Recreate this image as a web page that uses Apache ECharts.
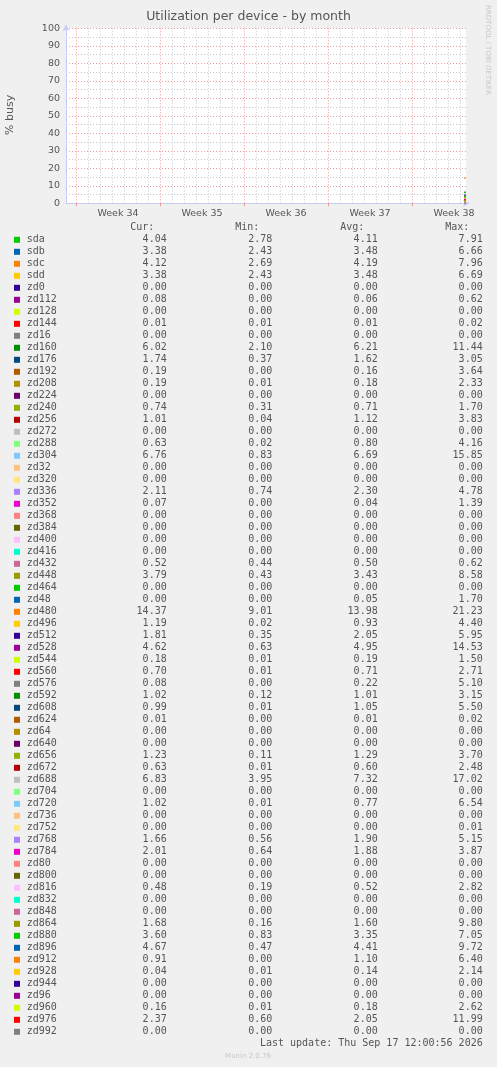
<!DOCTYPE html>
<html>
<head>
<meta charset="utf-8">
<script src="https://cdn.jsdelivr.net/npm/echarts@6/dist/echarts.min.js"></script>
<style>
html,body{margin:0;padding:0;background:#F0F0F0;}
#c{width:497px;height:1067px;}
</style>
</head>
<body>
<div id="c"></div>
<script>
// ---- Data ----
const devices = ["sda","sdb","sdc","sdd","zd0","zd112","zd128","zd144","zd16","zd160","zd176","zd192","zd208","zd224","zd240","zd256","zd272","zd288","zd304","zd32","zd320","zd336","zd352","zd368","zd384","zd400","zd416","zd432","zd448","zd464","zd48","zd480","zd496","zd512","zd528","zd544","zd560","zd576","zd592","zd608","zd624","zd64","zd640","zd656","zd672","zd688","zd704","zd720","zd736","zd752","zd768","zd784","zd80","zd800","zd816","zd832","zd848","zd864","zd880","zd896","zd912","zd928","zd944","zd96","zd960","zd976","zd992"];
const curVals = [4.04,3.38,4.12,3.38,0.00,0.08,0.00,0.01,0.00,6.02,1.74,0.19,0.19,0.00,0.74,1.01,0.00,0.63,6.76,0.00,0.00,2.11,0.07,0.00,0.00,0.00,0.00,0.52,3.79,0.00,0.00,14.37,1.19,1.81,4.62,0.18,0.70,0.08,1.02,0.99,0.01,0.00,0.00,1.23,0.63,6.83,0.00,1.02,0.00,0.00,1.66,2.01,0.00,0.00,0.48,0.00,0.00,1.68,3.60,4.67,0.91,0.04,0.00,0.00,0.16,2.37,0.00];
const minVals = [2.78,2.43,2.69,2.43,0.00,0.00,0.00,0.01,0.00,2.10,0.37,0.00,0.01,0.00,0.31,0.04,0.00,0.02,0.83,0.00,0.00,0.74,0.00,0.00,0.00,0.00,0.00,0.44,0.43,0.00,0.00,9.01,0.02,0.35,0.63,0.01,0.01,0.00,0.12,0.01,0.00,0.00,0.00,0.11,0.01,3.95,0.00,0.01,0.00,0.00,0.56,0.64,0.00,0.00,0.19,0.00,0.00,0.16,0.83,0.47,0.00,0.01,0.00,0.00,0.01,0.60,0.00];
const avgVals = [4.11,3.48,4.19,3.48,0.00,0.06,0.00,0.01,0.00,6.21,1.62,0.16,0.18,0.00,0.71,1.12,0.00,0.80,6.69,0.00,0.00,2.30,0.04,0.00,0.00,0.00,0.00,0.50,3.43,0.00,0.05,13.98,0.93,2.05,4.95,0.19,0.71,0.22,1.01,1.05,0.01,0.00,0.00,1.29,0.60,7.32,0.00,0.77,0.00,0.00,1.90,1.88,0.00,0.00,0.52,0.00,0.00,1.60,3.35,4.41,1.10,0.14,0.00,0.00,0.18,2.05,0.00];
const maxVals = [7.91,6.66,7.96,6.69,0.00,0.62,0.00,0.02,0.00,11.44,3.05,3.64,2.33,0.00,1.70,3.83,0.00,4.16,15.85,0.00,0.00,4.78,1.39,0.00,0.00,0.00,0.00,0.62,8.58,0.00,1.70,21.23,4.40,5.95,14.53,1.50,2.71,5.10,3.15,5.50,0.02,0.00,0.00,3.70,2.48,17.02,0.00,6.54,0.00,0.01,5.15,3.87,0.00,0.00,2.82,0.00,0.00,9.80,7.05,9.72,6.40,2.14,0.00,0.00,2.62,11.99,0.00];
// sample times (hours since Sun Aug 16 2026 00:00); data exists only at the very end
const sampleTimes = [776, 780];
const palette = ["#00CC00","#0066B3","#FF8000","#FFCC00","#330099","#990099","#CCFF00","#FF0000","#808080","#008F00","#00487D","#B35A00","#B38F00","#6B006B","#8FB300","#B30000","#BEBEBE","#80FF80","#80C9FF","#FFC080","#FFE680","#AA80FF","#EE00CC","#FF8080","#666600","#FFBFFF","#00FFCC","#CC6699","#999900"];
const weekLabels = ["Week 34","Week 35","Week 36","Week 37","Week 38"];
const weekCenters = [84, 252, 420, 588, 756];
const weekStarts = [0, 168, 336, 504, 672];
const dayLines = [];
for (let d = 0; d <= 32; d++) if (d % 7 !== 0) dayLines.push(d * 24);
const yTicks = [0,10,20,30,40,50,60,70,80,90,100];
const yMinor = [5,15,25,35,45,55,65,75,85,95];
const xMin = -20, xMax = 780;

// ---- Chart ----
const chart = echarts.init(document.getElementById('c'));
const mono = '"DejaVu Sans Mono", monospace';
const sans = '"DejaVu Sans", sans-serif';
const txt = '#555555';
const gridGray = '#C8C8C8';
const gridRed = '#EE9A9A';

const series = devices.map((name, i) => ({
  name: name,
  type: 'line',
  xAxisIndex: 2,
  yAxisIndex: 1,
  data: sampleTimes.map(t => [t, curVals[i]]),
  showSymbol: false,
  symbol: 'none',
  lineStyle: { width: 1, color: palette[i % palette.length] },
  itemStyle: { color: palette[i % palette.length] },
  silent: true,
  animation: false,
  z: 5
}));

const graphic = [];
graphic.push({ type: 'text', left: 'center', top: 10, style: { text: 'Utilization per device - by month', font: '12.5px ' + sans, fill: txt } });
graphic.push({ type: 'text', x: 5, y: 135, rotation: Math.PI / 2, style: { text: '% busy', font: '11px ' + sans, fill: txt, textVerticalAlign: 'top' } });
graphic.push({ type: 'text', x: 491, y: 5, rotation: -Math.PI / 2, style: { text: 'RRDTOOL / TOBI OETIKER', font: '7px ' + sans, fill: '#C8C8C8', textVerticalAlign: 'top' } });

const headers = ['Cur:', 'Min:', 'Avg:', 'Max:'];
const headerX = [154.3, 259.3, 364.3, 469.3];
const colX = [166.7, 272.3, 377.7, 482.7];
headers.forEach((h, k) => {
  graphic.push({ type: 'text', x: headerX[k], y: 227.5, style: { text: h, font: '10px ' + mono, fill: txt, textAlign: 'right', textVerticalAlign: 'middle' } });
});
devices.forEach((name, i) => {
  const yc = 239.8 + 12 * i;
  graphic.push({ type: 'rect', shape: { x: 14, y: yc - 3, width: 6, height: 6 }, style: { fill: palette[i % palette.length] } });
  graphic.push({ type: 'text', x: 26.7, y: yc, style: { text: name, font: '10px ' + mono, fill: txt, textVerticalAlign: 'middle' } });
  [curVals, minVals, avgVals, maxVals].forEach((arr, k) => {
    graphic.push({ type: 'text', x: colX[k], y: yc, style: { text: arr[i].toFixed(2), font: '10px ' + mono, fill: txt, textAlign: 'right', textVerticalAlign: 'middle' } });
  });
});
graphic.push({ type: 'text', x: 482.7, y: 1043.5, style: { text: 'Last update: Thu Sep 17 12:00:56 2026', font: '10px ' + mono, fill: txt, textAlign: 'right', textVerticalAlign: 'middle' } });
graphic.push({ type: 'text', x: 248, y: 1056, style: { text: 'Munin 2.0.76', font: '7px ' + sans, fill: '#C8C8C8', textAlign: 'center', textVerticalAlign: 'middle' } });

const baseX = { type: 'value', min: xMin, max: xMax, gridIndex: 0, position: 'bottom' };
const baseY = { type: 'value', min: 0, max: 100, gridIndex: 0, position: 'left' };
const axisLineStyle = { color: '#C8CCF8', width: 1 };
chart.setOption({
  backgroundColor: '#F0F0F0',
  animation: false,
  grid: { left: 66, top: 28.3, width: 400, height: 175, show: true, backgroundColor: '#FFFFFF', borderWidth: 0 },
  xAxis: [
    Object.assign({}, baseX, {
      axisLine: { show: false, onZero: false },
      axisTick: { show: true, customValues: dayLines, length: 0, lineStyle: { color: gridGray } },
      axisLabel: { show: false },
      splitLine: { show: true, lineStyle: { color: gridGray, type: [1, 2], width: 1 } }
    }),
    Object.assign({}, baseX, {
      axisLine: { show: false, onZero: false },
      axisTick: { show: true, customValues: weekStarts, length: 3, lineStyle: { color: gridRed } },
      axisLabel: { show: false },
      splitLine: { show: true, lineStyle: { color: gridRed, type: [1, 2], width: 1 } }
    }),
    Object.assign({}, baseX, {
      axisLine: { show: true, onZero: false, symbol: ['none', 'arrow'], symbolSize: [5, 7], symbolOffset: [0, 4], lineStyle: axisLineStyle },
      axisTick: { show: false },
      axisLabel: { show: true, customValues: weekCenters, margin: 5, fontFamily: 'DejaVu Sans', fontSize: 9.5, color: txt,
        formatter: v => weekLabels[weekCenters.indexOf(v)] || '' },
      splitLine: { show: false }
    })
  ],
  yAxis: [
    Object.assign({}, baseY, {
      axisLine: { show: false, onZero: false },
      axisTick: { show: false, customValues: yMinor },
      axisLabel: { show: false },
      splitLine: { show: true, lineStyle: { color: gridGray, type: [1, 2], width: 1 } }
    }),
    Object.assign({}, baseY, {
      interval: 10,
      axisLine: { show: true, onZero: false, symbol: ['none', 'arrow'], symbolSize: [5, 7], symbolOffset: [0, 4], lineStyle: axisLineStyle },
      axisTick: { show: false, customValues: yTicks },
      axisLabel: { show: true, customValues: yTicks, margin: 6, fontFamily: 'DejaVu Sans', fontSize: 9.5, color: txt, formatter: v => String(v) },
      splitLine: { show: true, lineStyle: { color: gridRed, type: [1, 2], width: 1 } }
    })
  ],
  series: series,
  graphic: graphic
});
</script>
</body>
</html>
